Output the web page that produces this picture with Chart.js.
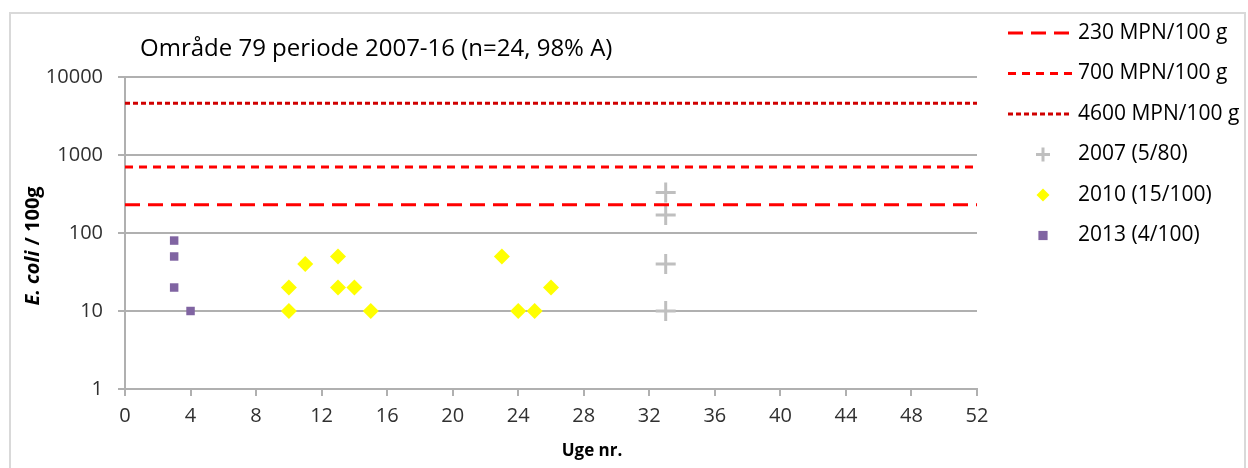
<!DOCTYPE html>
<html>
<head>
<meta charset="utf-8">
<script src="https://cdn.jsdelivr.net/npm/chart.js@4.4.0/dist/chart.umd.min.js"></script>
<style>
  html, body { margin: 0; padding: 0; background: #fff; }
  #wrap { position: relative; width: 1248px; height: 468px; overflow: hidden; }
  #frame { position: absolute; left: 9px; top: 12px; width: 1233px; height: 480px;
           border: 2px solid #d9d9d9; }
  canvas { position: absolute; left: 0; top: 0; }
</style>
</head>
<body>
<div id="wrap">
  <div id="frame"></div>
  <canvas id="chart" width="1248" height="468"></canvas>
</div>
<script>
// Område 79 — E. coli per 100 g by week, three sampling years + three limit lines.
const TITLE = 'Område 79 periode 2007-16 (n=24, 98% A)';
const X_TITLE = 'Uge nr.';
const Y_TICKS = [1, 10, 100, 1000, 10000];
const WEEK_MIN = 0, WEEK_MAX = 52, WEEK_STEP = 4;

const LIMITS = [230, 700, 4600];
const LIMIT_LABELS = ['230 MPN/100 g', '700 MPN/100 g', '4600 MPN/100 g'];

const weeks2007 = [33, 33, 33, 33];
const ecoli2007 = [330, 170, 40, 10];

const weeks2010 = [10, 10, 11, 13, 13, 14, 15, 23, 24, 25, 26];
const ecoli2010 = [20, 10, 40, 50, 20, 20, 10, 50, 10, 10, 20];

const weeks2013 = [3, 3, 3, 4];
const ecoli2013 = [80, 50, 20, 10];

const FONT = '"Open Sans", Lato, sans-serif';
const ink = '#303030', grid = '#b0b0b0';

const pts = (xs, ys) => xs.map((x, i) => ({ x, y: ys[i] }));
const hline = (v) => [{ x: WEEK_MIN, y: v }, { x: WEEK_MAX, y: v }];

const limitStyles = [
  { color: '#ff0000', dash: [15, 8] },
  { color: '#ff0000', dash: [8, 6] },
  { color: '#d00000', dash: [5, 3] },
];

const datasets = [
  ...LIMITS.map((v, i) => ({
    label: LIMIT_LABELS[i],
    data: hline(v),
    showLine: true,
    borderColor: limitStyles[i].color,
    borderDash: limitStyles[i].dash,
    borderWidth: 3,
    pointRadius: 0,
  })),
  {
    label: '2007 (5/80)', data: pts(weeks2007, ecoli2007),
    pointStyle: 'cross', pointRadius: 10, pointBorderWidth: 3,
    pointBorderColor: '#bfbfbf', pointBackgroundColor: '#bfbfbf',
  },
  {
    label: '2010 (15/100)', data: pts(weeks2010, ecoli2010),
    pointStyle: 'rectRot', pointRadius: 8, pointBorderWidth: 0,
    pointBackgroundColor: '#ffff00', pointBorderColor: '#ffff00',
  },
  {
    label: '2013 (4/100)', data: pts(weeks2013, ecoli2013),
    pointStyle: 'rect', pointRadius: 6, pointBorderWidth: 0,
    pointBackgroundColor: '#8064a2', pointBorderColor: '#8064a2',
  },
];

// Title, axis titles (y one mixes italic) and the legend are drawn on the canvas directly.
const decor = {
  id: 'decor',
  afterDraw(chart) {
    const ctx = chart.ctx;
    const area = chart.chartArea;
    ctx.save();
    ctx.fillStyle = '#000';
    ctx.textBaseline = 'middle';
    ctx.textAlign = 'left';
    ctx.font = `24px ${FONT}`;
    ctx.fillText(TITLE, area.left + 15, 49);

    // x title sits a bit right of the plot centre, as in the original
    ctx.textAlign = 'center';
    ctx.font = `bold 17px ${FONT}`;
    ctx.fillText(X_TITLE, 592, 451);
    ctx.textAlign = 'left';

    // y title: "E. coli" italic, rest upright
    ctx.save();
    ctx.translate(33, 246);
    ctx.rotate(-Math.PI / 2);
    const a = 'E. coli', b = ' / 100g';
    ctx.font = `italic bold 20px ${FONT}`;
    const wa = ctx.measureText(a).width;
    ctx.font = `bold 20px ${FONT}`;
    const wb = ctx.measureText(b).width;
    const x0 = -(wa + wb) / 2;
    ctx.fillStyle = '#000';
    ctx.font = `italic bold 20px ${FONT}`;
    ctx.fillText(a, x0, 0);
    ctx.font = `bold 20px ${FONT}`;
    ctx.fillText(b, x0 + wa, 0);
    ctx.restore();

    // legend
    chart.data.datasets.forEach((ds, i) => {
      const y = 33 + i * 40.5;
      if (ds.showLine) {
        ctx.save();
        ctx.strokeStyle = ds.borderColor;
        ctx.lineWidth = 3;
        ctx.setLineDash(ds.borderDash);
        ctx.beginPath();
        ctx.moveTo(1008, y);
        ctx.lineTo(1072, y);
        ctx.stroke();
        ctx.restore();
      } else {
        ctx.save();
        ctx.fillStyle = ds.pointBackgroundColor;
        ctx.strokeStyle = ds.pointBorderColor;
        ctx.lineWidth = ds.pointBorderWidth;
        Chart.helpers.drawPoint(ctx, {
          pointStyle: ds.pointStyle, rotation: 0,
          radius: ds.pointStyle === 'cross' ? 7 : 6.5,
          borderWidth: ds.pointBorderWidth,
        }, 1043, y);
        ctx.restore();
      }
      ctx.fillStyle = '#000';
      ctx.font = `21px ${FONT}`;
      ctx.fillText(ds.label, 1078, y);
    });
    ctx.restore();
  },
};

new Chart(document.getElementById('chart'), {
  type: 'scatter',
  data: { datasets },
  options: {
    responsive: false,
    animation: false,
    layout: { padding: { left: 40, right: 271, top: 77, bottom: 0 } },
    plugins: { legend: { display: false }, tooltip: { enabled: false }, title: { display: false } },
    scales: {
      x: {
        type: 'linear', min: WEEK_MIN, max: WEEK_MAX,
        afterFit: (s) => { s.height = 79; },
        ticks: { stepSize: WEEK_STEP, color: ink, padding: 8, font: { family: FONT, size: 20 } },
        grid: { drawOnChartArea: false, drawTicks: true, tickLength: 7, color: grid, lineWidth: 2 },
        border: { color: grid, width: 2 },
      },
      y: {
        type: 'logarithmic', min: Y_TICKS[0], max: Y_TICKS[Y_TICKS.length - 1],
        afterFit: (s) => { s.width = 85; },
        afterBuildTicks: (s) => { s.ticks = Y_TICKS.map((v) => ({ value: v })); },
        ticks: { color: ink, padding: 15, font: { family: FONT, size: 20 },
                 callback: (v) => String(v) },
        grid: { color: grid, lineWidth: 2, tickLength: 7 },
        border: { color: grid, width: 2 },
      },
    },
  },
  plugins: [decor],
});
</script>
</body>
</html>
